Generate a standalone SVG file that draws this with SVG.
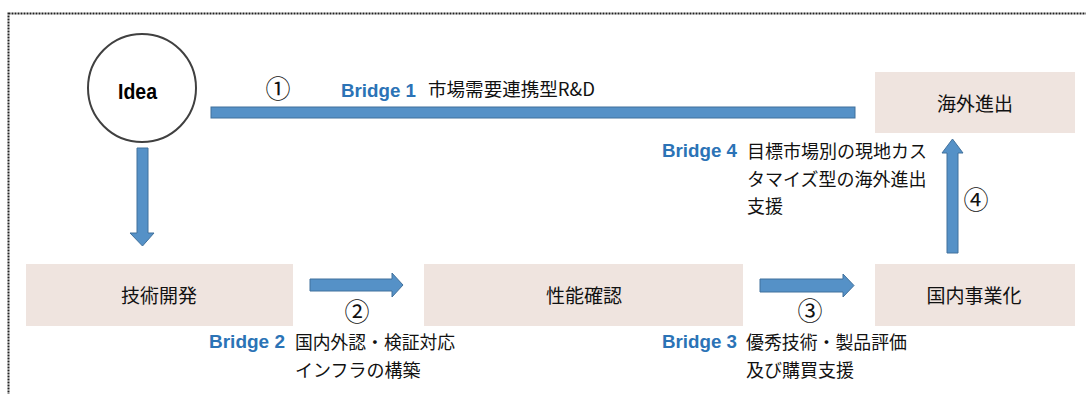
<svg xmlns="http://www.w3.org/2000/svg" width="1086" height="394" viewBox="0 0 1086 394">
<style>
.box{fill:#EFE4DF}
.arr{fill:#5591C7;stroke:#41719C;stroke-width:1}
.jp{font-family:"Noto Sans CJK JP","Liberation Sans",sans-serif;fill:#111}
.bl{font-family:"Liberation Sans",Arial,sans-serif;font-weight:bold;fill:#2B73B6;font-size:19px}
.num{font-family:"Noto Sans CJK JP","DejaVu Sans",sans-serif;fill:#111;font-size:25px}
</style>
<rect x="8.5" y="13.5" width="1100" height="420" fill="#fff" stroke="#222" stroke-width="2" stroke-dasharray="2 1"/>
<g id="idea">
<circle cx="142" cy="88" r="54" fill="#fff" stroke="#404040" stroke-width="2"/>
<text x="137.5" y="99" text-anchor="middle" font-family="Liberation Sans, Arial, sans-serif" font-weight="bold" font-size="22" textLength="39" lengthAdjust="spacingAndGlyphs" fill="#000">Idea</text>
</g>
<g id="gijutsu">
<rect class="box" x="26" y="264" width="267" height="62"/>
<text class="jp" x="159" y="303" font-size="19" text-anchor="middle">技術開発</text>
</g>
<g id="seino">
<rect class="box" x="424" y="264" width="319" height="62"/>
<text class="jp" x="584" y="303" font-size="19" text-anchor="middle">性能確認</text>
</g>
<g id="kokunai">
<rect class="box" x="875" y="264" width="200" height="62"/>
<text class="jp" x="974" y="303" font-size="19" text-anchor="middle">国内事業化</text>
</g>
<g id="kaigai">
<rect class="box" x="875" y="72" width="200" height="61"/>
<text class="jp" x="975" y="111" font-size="19" text-anchor="middle">海外進出</text>
</g>
<g id="connectors">
<rect class="arr" x="211" y="107" width="644" height="11"/>
<path class="arr" d="M137,148 H148 V233 H154 L142.5,246 L130,233 H137 Z"/>
<path class="arr" d="M310,279 H392 V273 L403,285 L392,297 V291 H310 Z"/>
<path class="arr" d="M760,279 H843 V274 L854,285.5 L843,297 V292 H760 Z"/>
<path class="arr" d="M947,253 V153 H942 L952.5,139 L963,153 H958 V253 Z"/>
</g>
<g id="labels">
<text class="num" x="278" y="98" text-anchor="middle">①</text>
<text class="bl" x="341" y="97" textLength="75" lengthAdjust="spacingAndGlyphs">Bridge 1</text>
<text class="jp" x="428" y="96" font-size="18" textLength="167" lengthAdjust="spacingAndGlyphs">市場需要連携型R&amp;D</text>
<text class="num" x="357" y="321" text-anchor="middle">②</text>
<text class="bl" x="209" y="348" textLength="76" lengthAdjust="spacingAndGlyphs">Bridge 2</text>
<text class="jp" x="295" y="349" font-size="18" textLength="160" lengthAdjust="spacingAndGlyphs">国内外認・検証対応</text>
<text class="jp" x="295" y="377" font-size="18">インフラの構築</text>
<text class="num" x="810" y="320" text-anchor="middle">③</text>
<text class="bl" x="662" y="348" textLength="75" lengthAdjust="spacingAndGlyphs">Bridge 3</text>
<text class="jp" x="746" y="349" font-size="18" textLength="161" lengthAdjust="spacingAndGlyphs">優秀技術・製品評価</text>
<text class="jp" x="746" y="377" font-size="18">及び購買支援</text>
<text class="num" x="976" y="209" text-anchor="middle">④</text>
<text class="bl" x="662" y="157" textLength="75" lengthAdjust="spacingAndGlyphs">Bridge 4</text>
<text class="jp" x="747" y="158" font-size="18">目標市場別の現地カス</text>
<text class="jp" x="747" y="186" font-size="18">タマイズ型の海外進出</text>
<text class="jp" x="747" y="213" font-size="18">支援</text>
</g>
</svg>
